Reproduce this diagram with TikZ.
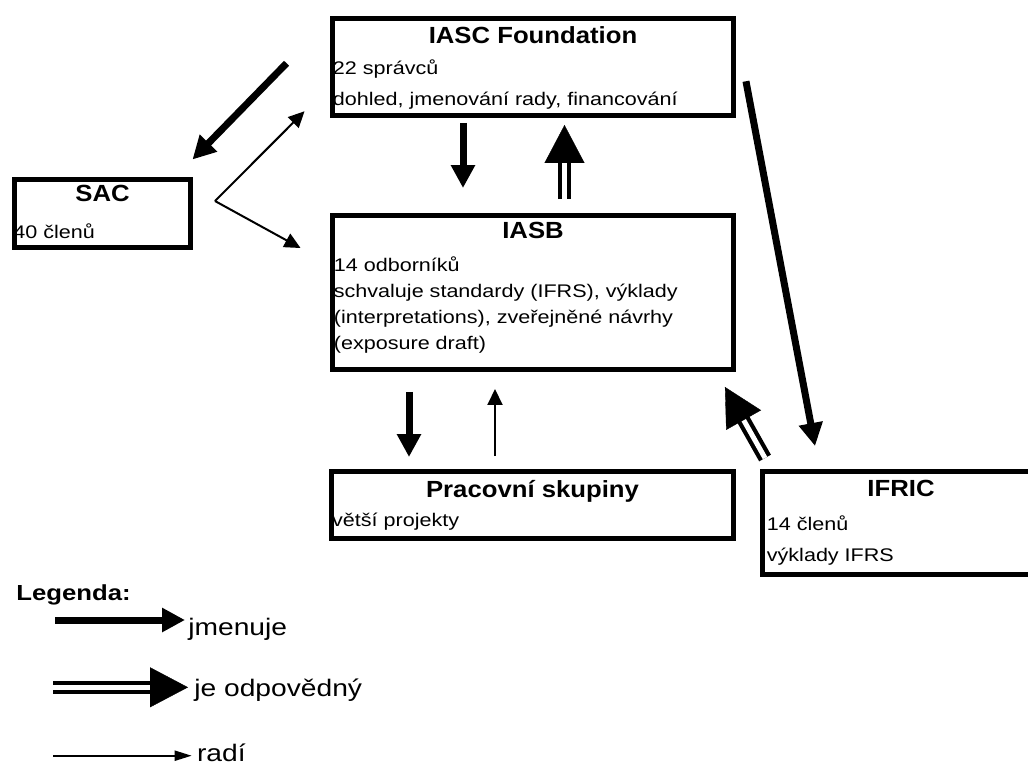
\documentclass[tikz,border=0pt]{standalone}
\usepackage{fontspec}
\setmainfont{Liberation Sans}[FakeStretch=1.18]
\newfontfamily\titlefamily{Liberation Sans}[FakeStretch=1.1]
\usepackage{tikz}
\usetikzlibrary{arrows.meta,calc,positioning}

\tikzset{
  box/.style={draw, line width=0.1cm, outer sep=0pt, inner sep=0pt},
  boxtitle/.style={font=\titlefamily\bfseries\fontsize{13.3pt}{16pt}\selectfont, anchor=base, inner sep=0pt},
  boxtext/.style={font=\fontsize{10.4pt}{12pt}\selectfont, anchor=base west, inner sep=0pt},
  legtitle/.style={font=\bfseries\fontsize{12.4pt}{14pt}\selectfont, anchor=base west, inner sep=0pt},
  legtext/.style={font=\fontsize{13.6pt}{15pt}\selectfont, anchor=base west, inner sep=0pt},
  jmen/.style={line width=0.14cm, -{Triangle[length=0.46cm,width=0.46cm]}},
  radi/.style={line width=0.04cm, -{Triangle[length=0.32cm,width=0.3cm]}},
  respline/.style={double, double distance=0.1cm, line width=0.085cm, shorten >=0.7cm},
  resptip/.style={draw=white, line width=0.2pt, -{Triangle[length=0.76cm,width=0.8cm,black]}},
}

\begin{document}
\begin{tikzpicture}[x=0.02cm, y=-0.02cm]
  \clip (0,0) rectangle (1028,765);
  % ── Boxes ──
  \node[box, minimum width=8.02cm, minimum height=1.95cm] (iasc) at (533,67.25) {};
  \node[box, minimum width=8.02cm, minimum height=3.1cm] (iasb) at (533,292.5) {};
  \node[box, minimum width=3.52cm, minimum height=1.36cm] (sac) at (102.5,213.5) {};
  \node[box, minimum width=8.06cm, minimum height=1.34cm] (prac) at (532.5,505) {};
  \node[box, minimum width=5.54cm, minimum height=2.06cm] (ifric) at (901,523) {};
  %
  % ── IASC Foundation ──
  \node[boxtitle] (iasc-t) at ($(iasc.north)+(0,24.8)$) {IASC Foundation};
  \node[boxtext] (iasc-1) at ($(iasc.north west)+(0,55.8)$) {22 správců};
  \node[boxtext] (iasc-2) at ($(iasc.north west)+(0,86.5)$) {dohled, jmenování rady, financování};
  % ── IASB ──
  \node[boxtitle] (iasb-t) at ($(iasb.north)+(0,23.3)$) {IASB};
  \node[boxtext] (iasb-1) at ($(iasb.north west)+(1,56.7)$) {14 odborníků};
  \node[boxtext] (iasb-2) at ($(iasb.north west)+(1,82.7)$) {schvaluje standardy (IFRS), výklady};
  \node[boxtext] (iasb-3) at ($(iasb.north west)+(1,108.3)$) {(interpretations), zveřejněné návrhy};
  \node[boxtext] (iasb-4) at ($(iasb.north west)+(1,134)$) {(exposure draft)};
  % ── SAC ──
  \node[boxtitle] (sac-t) at ($(sac.north)+(0,22.2)$) {SAC};
  \node[boxtext] (sac-1) at ($(sac.north west)+(-1.5,58.8)$) {40 členů};
  % ── Pracovní skupiny ──
  \node[boxtitle] (prac-t) at ($(prac.north)+(0,25.8)$) {Pracovní skupiny};
  \node[boxtext] (prac-1) at ($(prac.north west)+(0.7,55.2)$) {větší projekty};
  % ── IFRIC ──
  \node[boxtitle] (ifric-t) at ($(ifric.north)+(0,24.5)$) {IFRIC};
  \node[boxtext] (ifric-1) at ($(ifric.north west)+(4,58.5)$) {14 členů};
  \node[boxtext] (ifric-2) at ($(ifric.north west)+(4,90.2)$) {výklady IFRS};
  %
  % ── jmenuje ──
  \draw[jmen] ($(iasc.west)+(-46,-4)$) -- ($(sac.north east)+(2,-20)$);
  \draw[jmen] ($(iasc.south)+(-70,7)$) -- ($(iasb.north)+(-70,-27)$);
  \draw[jmen] ($(iasb.south)+(-124,22)$) -- ($(prac.north)+(-123.5,-14.5)$);
  \draw[jmen] ($(iasc.east)+(12.5,14)$) -- ($(ifric.north west)+(52.5,-25.5)$);
  % ── radí ──
  \coordinate (sac-v) at ($(sac.east)+(24.5,-12.5)$);
  \draw[radi] (sac-v) -- ($(iasc.west)+(-28,44)$);
  \draw[radi] (sac-v) -- ($(iasb.north west)+(-32,33)$);
  \draw[radi] ($(prac.north)+(-37.5,-15.5)$) -- ($(iasb.south)+(-38,19)$);
  % ── je odpovědný ──
  \draw[respline] ($(iasb.north)+(31.5,-16)$) -- ($(iasc.south)+(31.5,9)$);
  \draw[resptip] ($(iasb.north)+(31.5,-16)$) -- ($(iasc.south)+(31.5,9)$);
  \draw[respline] ($(ifric.north west)+(2.5,-13.5)$) -- ($(iasb.south east)+(-8.5,17)$);
  \draw[resptip] ($(ifric.north west)+(2.5,-13.5)$) -- ($(iasb.south east)+(-8.5,17)$);
  %
  % ── Legend ──
  \node[legtitle] (leg) at (16,600) {Legenda:};
  \node[legtext] (leg-jmen) at (188,635) {jmenuje};
  \node[legtext] (leg-resp) at (194,696.7) {je odpovědný};
  \node[legtext] (leg-radi) at (196.7,761.7) {radí};
  \coordinate (leg-jmen-s) at (55,620);
  \coordinate (leg-resp-s) at (53,687.3);
  \coordinate (leg-radi-s) at (53,755.7);
  \draw[jmen, shorten >=0.06cm] (leg-jmen-s) -- (leg-jmen-s -| leg-jmen.west);
  \draw[respline, shorten >=0.8cm] (leg-resp-s) -- (leg-resp-s -| leg-resp.west);
  \draw[resptip, shorten >=0.12cm] (leg-resp-s) -- (leg-resp-s -| leg-resp.west);
  \draw[radi, -{Triangle[length=0.34cm,width=0.2cm]}, shorten >=0.1cm] (leg-radi-s) -- (leg-radi-s -| leg-radi.west);
\end{tikzpicture}
\end{document}
